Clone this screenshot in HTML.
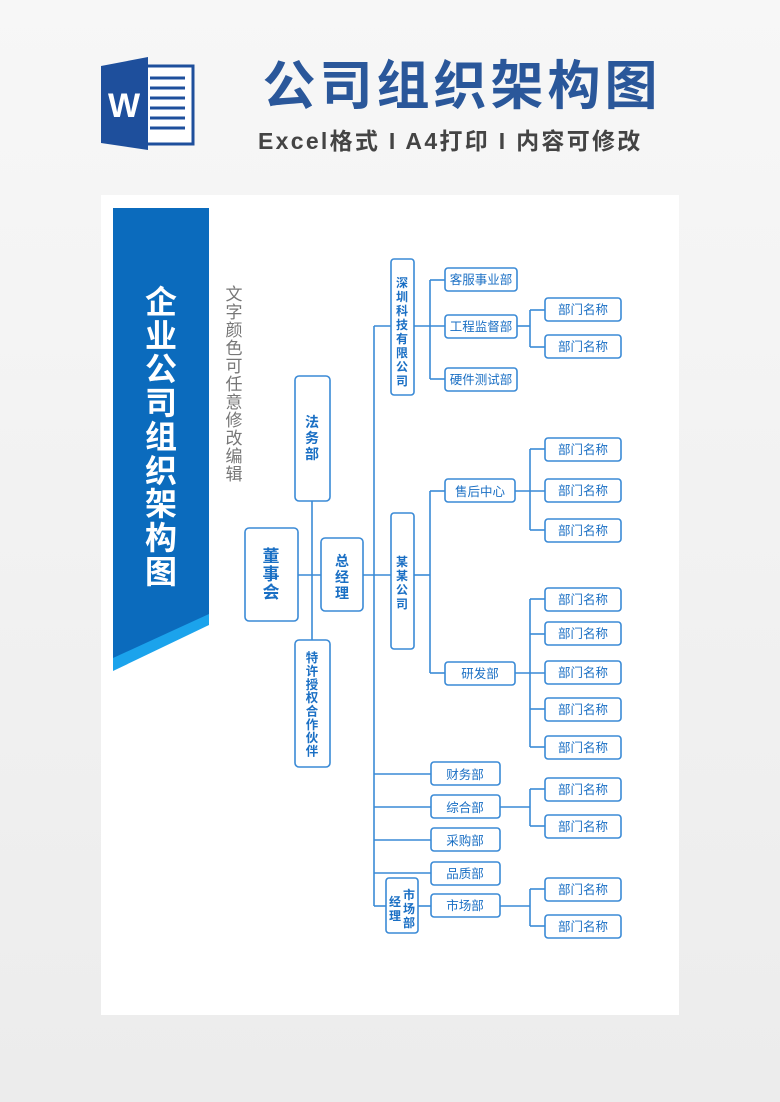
<!DOCTYPE html>
<html><head><meta charset="utf-8"><style>
body{margin:0;width:780px;height:1102px;background:#efefef;overflow:hidden;font-family:"Liberation Sans","Noto Sans CJK SC",sans-serif}
</style></head><body>
<svg width="780" height="1102" viewBox="0 0 780 1102" xmlns="http://www.w3.org/2000/svg" style="position:absolute;left:0;top:0">
<defs><linearGradient id="bg" x1="0" y1="0" x2="0" y2="1"><stop offset="0" stop-color="#f7f7f7"/><stop offset="1" stop-color="#ececec"/></linearGradient></defs>
<rect width="780" height="1102" fill="url(#bg)"/>
<rect x="140" y="66" width="53" height="78" fill="#fff" stroke="#1e4f9c" stroke-width="3"/>
<g stroke="#1e4f9c" stroke-width="3"><line x1="150" y1="78" x2="185" y2="78"/><line x1="150" y1="88" x2="185" y2="88"/><line x1="150" y1="98" x2="185" y2="98"/><line x1="150" y1="108" x2="185" y2="108"/><line x1="150" y1="118" x2="185" y2="118"/><line x1="150" y1="128" x2="185" y2="128"/></g>
<polygon points="101,66 148,57 148,150 101,143" fill="#1e4f9c"/>
<text x="124" y="117" font-size="34" font-weight="bold" fill="#fff" text-anchor="middle" font-family="Liberation Sans,sans-serif">W</text>
<text x="462" y="104" font-size="53" font-weight="bold" fill="#2a579a" text-anchor="middle" letter-spacing="4">公司组织架构图</text>
<text x="258" y="149" font-size="23" font-weight="bold" fill="#444" letter-spacing="2.3">Excel格式 I A4打印 I 内容可修改</text>
<rect x="101" y="195" width="578" height="820" fill="#fff"/>
<polygon points="113,208 209,208 209,625 113,671" fill="#1ba3ec"/>
<polygon points="113,208 209,208 209,614 113,658" fill="#0b6bbd"/>
<text font-size="32" font-weight="bold" fill="#fff" text-anchor="middle">
<tspan x="161" y="313">企</tspan><tspan x="161" y="347">业</tspan><tspan x="161" y="380">公</tspan><tspan x="161" y="414">司</tspan><tspan x="161" y="448">组</tspan><tspan x="161" y="482">织</tspan><tspan x="161" y="515">架</tspan><tspan x="161" y="549">构</tspan><tspan x="161" y="583">图</tspan></text>
<text font-size="17" fill="#777" text-anchor="middle">
<tspan x="234" y="300">文</tspan><tspan x="234" y="318">字</tspan><tspan x="234" y="336">颜</tspan><tspan x="234" y="354">色</tspan><tspan x="234" y="372">可</tspan><tspan x="234" y="390">任</tspan><tspan x="234" y="408">意</tspan><tspan x="234" y="426">修</tspan><tspan x="234" y="444">改</tspan><tspan x="234" y="462">编</tspan><tspan x="234" y="480">辑</tspan></text>
<g stroke="#3a8ad6" stroke-width="1.6" fill="none">
<line x1="312" y1="501" x2="312" y2="640"/><line x1="298" y1="575" x2="321" y2="575"/><line x1="363" y1="575" x2="391" y2="575"/>
<line x1="374" y1="326" x2="374" y2="906"/><line x1="374" y1="326" x2="391" y2="326"/>
<line x1="414" y1="326" x2="445" y2="326"/><line x1="430" y1="280" x2="430" y2="379"/><line x1="430" y1="280" x2="445" y2="280"/><line x1="430" y1="379" x2="445" y2="379"/>
<line x1="517" y1="326" x2="530" y2="326"/><line x1="530" y1="310" x2="530" y2="347"/><line x1="530" y1="310" x2="545" y2="310"/><line x1="530" y1="347" x2="545" y2="347"/>
<line x1="414" y1="575" x2="430" y2="575"/><line x1="430" y1="491" x2="430" y2="673"/><line x1="430" y1="491" x2="445" y2="491"/><line x1="430" y1="673" x2="445" y2="673"/>
<line x1="515" y1="491" x2="545" y2="491"/><line x1="530" y1="449" x2="530" y2="530"/><line x1="530" y1="449" x2="545" y2="449"/><line x1="530" y1="530" x2="545" y2="530"/>
<line x1="515" y1="673" x2="545" y2="673"/><line x1="530" y1="599" x2="530" y2="747"/><line x1="530" y1="599" x2="545" y2="599"/><line x1="530" y1="634" x2="545" y2="634"/><line x1="530" y1="709" x2="545" y2="709"/><line x1="530" y1="747" x2="545" y2="747"/>
<line x1="374" y1="774" x2="431" y2="774"/><line x1="374" y1="807" x2="431" y2="807"/><line x1="374" y1="840" x2="431" y2="840"/><line x1="374" y1="873" x2="431" y2="873"/><line x1="374" y1="906" x2="386" y2="906"/><line x1="418" y1="906" x2="431" y2="906"/>
<line x1="500" y1="807" x2="530" y2="807"/><line x1="530" y1="789" x2="530" y2="826"/><line x1="530" y1="789" x2="545" y2="789"/><line x1="530" y1="826" x2="545" y2="826"/>
<line x1="500" y1="906" x2="530" y2="906"/><line x1="530" y1="889" x2="530" y2="926"/><line x1="530" y1="889" x2="545" y2="889"/><line x1="530" y1="926" x2="545" y2="926"/>
</g>
<g stroke="#3a8ad6" stroke-width="1.6" fill="#fff">
<rect x="245" y="528" width="53" height="93" rx="4"/><rect x="321" y="538" width="42" height="73" rx="4"/>
<rect x="295" y="376" width="35" height="125" rx="4"/><rect x="295" y="640" width="35" height="127" rx="4"/>
<rect x="391" y="259" width="23" height="136" rx="3"/><rect x="391" y="513" width="23" height="136" rx="3"/>
<rect x="445" y="268" width="72" height="23" rx="3"/><rect x="445" y="315" width="72" height="23" rx="3"/><rect x="445" y="368" width="72" height="23" rx="3"/>
<rect x="445" y="479" width="70" height="23" rx="3"/><rect x="445" y="662" width="70" height="23" rx="3"/>
<rect x="545" y="298" width="76" height="23" rx="3"/><rect x="545" y="335" width="76" height="23" rx="3"/>
<rect x="545" y="438" width="76" height="23" rx="3"/><rect x="545" y="479" width="76" height="23" rx="3"/><rect x="545" y="519" width="76" height="23" rx="3"/>
<rect x="545" y="588" width="76" height="23" rx="3"/><rect x="545" y="622" width="76" height="23" rx="3"/><rect x="545" y="661" width="76" height="23" rx="3"/><rect x="545" y="698" width="76" height="23" rx="3"/><rect x="545" y="736" width="76" height="23" rx="3"/>
<rect x="431" y="762" width="69" height="23" rx="3"/><rect x="431" y="795" width="69" height="23" rx="3"/><rect x="431" y="828" width="69" height="23" rx="3"/><rect x="431" y="862" width="69" height="23" rx="3"/><rect x="431" y="894" width="69" height="23" rx="3"/>
<rect x="386" y="878" width="32" height="55" rx="3"/>
<rect x="545" y="778" width="76" height="23" rx="3"/><rect x="545" y="815" width="76" height="23" rx="3"/><rect x="545" y="878" width="76" height="23" rx="3"/><rect x="545" y="915" width="76" height="23" rx="3"/>
</g>
<g fill="#1a6fc4" text-anchor="middle" font-weight="bold">
<text font-size="17"><tspan x="271" y="562">董</tspan><tspan x="271" y="580">事</tspan><tspan x="271" y="598">会</tspan></text>
<text font-size="14"><tspan x="342" y="566">总</tspan><tspan x="342" y="582">经</tspan><tspan x="342" y="598">理</tspan></text>
<text font-size="14"><tspan x="312" y="427">法</tspan><tspan x="312" y="443">务</tspan><tspan x="312" y="459">部</tspan></text>
<text font-size="12.5"><tspan x="312" y="662">特</tspan><tspan x="312" y="675.5">许</tspan><tspan x="312" y="689">授</tspan><tspan x="312" y="702">权</tspan><tspan x="312" y="715.5">合</tspan><tspan x="312" y="729">作</tspan><tspan x="312" y="742">伙</tspan><tspan x="312" y="755.5">伴</tspan></text>
<text font-size="12"><tspan x="402" y="287">深</tspan><tspan x="402" y="301">圳</tspan><tspan x="402" y="315">科</tspan><tspan x="402" y="329">技</tspan><tspan x="402" y="343">有</tspan><tspan x="402" y="357">限</tspan><tspan x="402" y="371">公</tspan><tspan x="402" y="385">司</tspan></text>
<text font-size="12"><tspan x="402" y="566">某</tspan><tspan x="402" y="580">某</tspan><tspan x="402" y="594">公</tspan><tspan x="402" y="608">司</tspan></text>
<text font-size="12"><tspan x="409" y="899">市</tspan><tspan x="409" y="913">场</tspan><tspan x="409" y="927">部</tspan><tspan x="395" y="906">经</tspan><tspan x="395" y="920">理</tspan></text>
</g>
<g fill="#1a6fc4" text-anchor="middle" font-size="12.5">
<text x="481" y="284">客服事业部</text><text x="481" y="331">工程监督部</text><text x="481" y="384">硬件测试部</text>
<text x="480" y="496">售后中心</text><text x="480" y="678">研发部</text>
<text x="465" y="779">财务部</text><text x="465" y="812">综合部</text><text x="465" y="845">采购部</text><text x="465" y="878">品质部</text><text x="465" y="910">市场部</text>
<text x="583" y="314">部门名称</text><text x="583" y="351">部门名称</text>
<text x="583" y="454">部门名称</text><text x="583" y="495">部门名称</text><text x="583" y="535">部门名称</text>
<text x="583" y="604">部门名称</text><text x="583" y="638">部门名称</text><text x="583" y="677">部门名称</text><text x="583" y="714">部门名称</text><text x="583" y="752">部门名称</text>
<text x="583" y="794">部门名称</text><text x="583" y="831">部门名称</text><text x="583" y="894">部门名称</text><text x="583" y="931">部门名称</text>
</g>
</svg>
</body></html>
